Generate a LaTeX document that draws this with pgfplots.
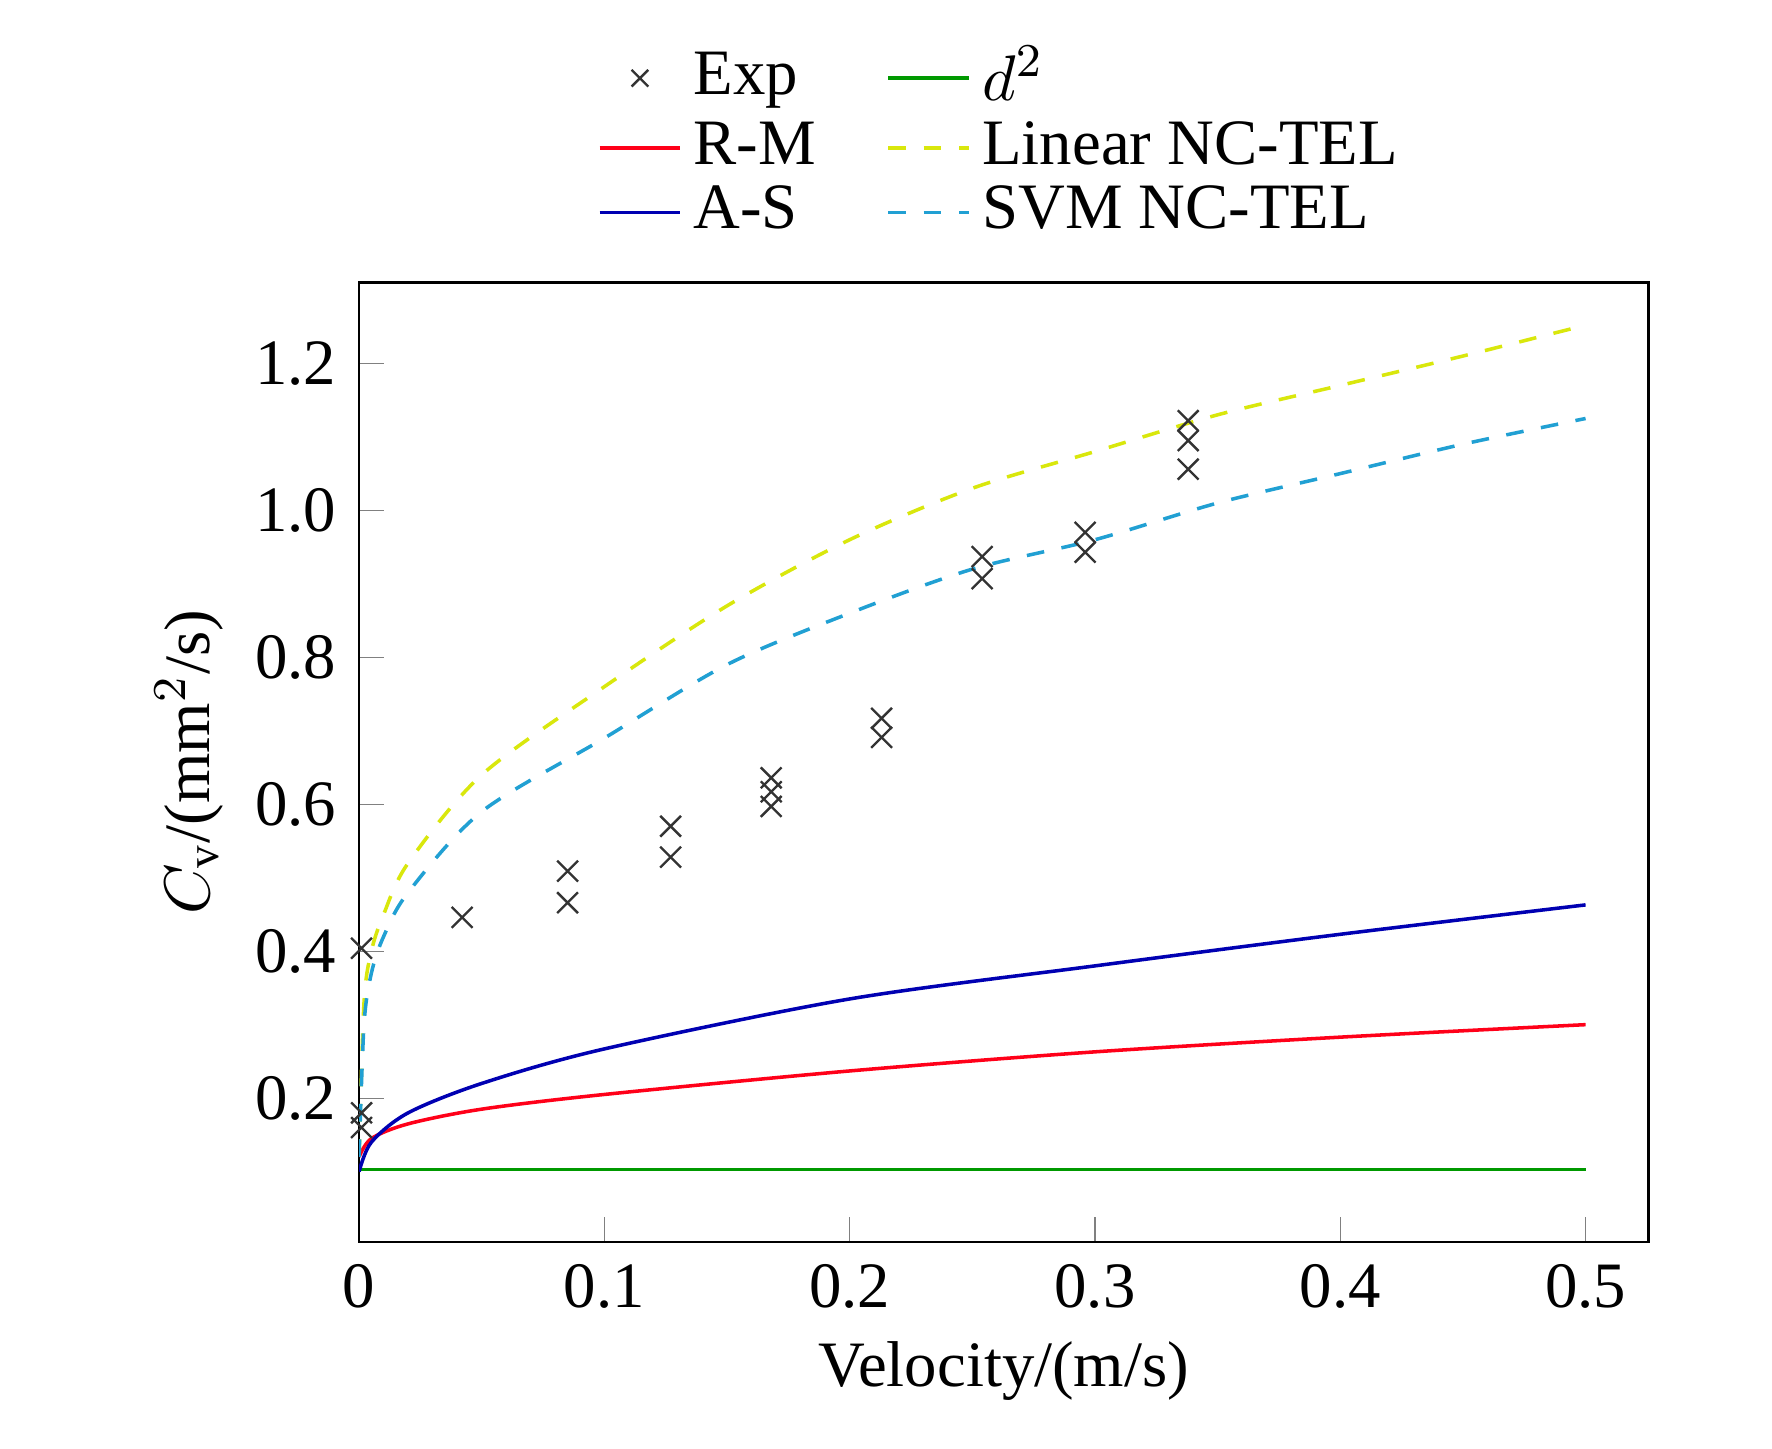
\documentclass[border=0pt]{standalone}
\usepackage{pgfplots}
\pgfplotsset{compat=1.18}
\usepackage{fontspec}
\setmainfont{Liberation Serif}
\begin{document}
\fontsize{11}{13}\selectfont
\begin{tikzpicture}
\useasboundingbox (-61pt,-35pt) rectangle (240pt,211pt);
\begin{axis}[scale only axis, width=219pt, height=163pt,
 xmin=0, xmax=0.5256, ymin=0.004, ymax=1.31,
 xtick={0,0.1,0.2,0.3,0.4,0.5}, xticklabels={0,0.1,0.2,0.3,0.4,0.5},
 ytick={0.2,0.4,0.6,0.8,1.0,1.2}, yticklabels={0.2,0.4,0.6,0.8,1.0,1.2},
 tick align=inside, xtick pos=bottom, ytick pos=left,
 xlabel={Velocity/(m/s)}, ylabel={$C_{\mathrm{v}}$/(mm$^2$/s)},
 xlabel style={yshift=2pt}, ylabel style={yshift=-2pt},
 legend style={at={(0.5,1.02)}, anchor=south, draw=none, legend columns=2, fill=none,
   /tikz/every even column/.append style={column sep=10pt}, row sep=-2pt},
 legend image post style={scale=0.8},
 legend cell align=left]
\addplot[only marks, mark=x, mark size=2.5pt, black!80] coordinates {
(0.001,0.404)(0.001,0.18)(0.001,0.16)(0.042,0.446)(0.085,0.509)(0.085,0.466)
(0.127,0.57)(0.127,0.528)(0.168,0.636)(0.168,0.617)(0.168,0.597)
(0.213,0.717)(0.213,0.691)(0.254,0.937)(0.254,0.907)(0.296,0.97)(0.296,0.943)
(0.338,1.122)(0.338,1.095)(0.338,1.056)};
\addlegendentry{Exp}
\addplot[green!60!black, semithick] coordinates {(0,0.103)(0.5,0.103)};
\addlegendentry{$d^2$}
\addplot[red!90!magenta, semithick, smooth] coordinates {(0,0.12)(0.005,0.145)(0.02,0.165)(0.05,0.185)(0.1,0.205)(0.2,0.237)(0.3,0.263)(0.4,0.283)(0.5,0.30)};
\addlegendentry{R-M}
\addplot[yellow!85!green, dashed, semithick, smooth] coordinates {(0,0.12)(0.002,0.33)(0.005,0.40)(0.01,0.45)(0.02,0.52)(0.05,0.64)(0.1,0.76)(0.15,0.87)(0.2,0.96)(0.25,1.03)(0.3,1.08)(0.35,1.13)(0.4,1.17)(0.45,1.21)(0.5,1.252)};
\addlegendentry{Linear NC-TEL}
\addplot[blue!70!black, semithick, smooth] coordinates {(0,0.1)(0.005,0.14)(0.02,0.18)(0.05,0.22)(0.1,0.267)(0.2,0.335)(0.3,0.38)(0.4,0.423)(0.5,0.463)};
\addlegendentry{A-S}
\addplot[cyan!70!teal, dashed, semithick, smooth] coordinates {(0,0.12)(0.002,0.3)(0.005,0.37)(0.01,0.42)(0.02,0.48)(0.05,0.59)(0.1,0.69)(0.15,0.79)(0.2,0.86)(0.25,0.92)(0.3,0.96)(0.35,1.01)(0.4,1.05)(0.45,1.09)(0.5,1.125)};
\addlegendentry{SVM NC-TEL}
\end{axis}
\end{tikzpicture}
\end{document}
